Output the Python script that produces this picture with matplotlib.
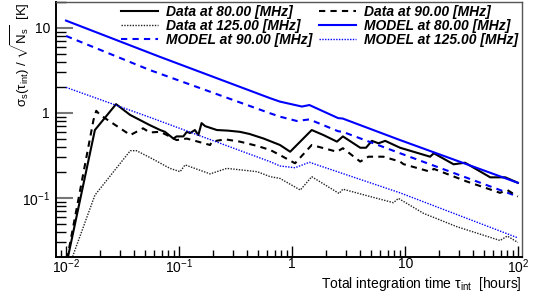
import numpy as np
import matplotlib
matplotlib.use("Agg")
import matplotlib.pyplot as plt
from matplotlib.ticker import FixedLocator, FixedFormatter, LogLocator, NullFormatter

plt.rcParams['font.family'] = ['Liberation Sans', 'DejaVu Sans']
plt.rcParams['mathtext.fontset'] = 'custom'
plt.rcParams['mathtext.rm'] = 'Liberation Sans'
plt.rcParams['mathtext.it'] = 'Liberation Sans:italic'
plt.rcParams['mathtext.bf'] = 'Liberation Sans:bold'

# values (time in hours, noise in K)
t_model80 = [0.01, 0.068, 0.64, 0.78, 1.22, 1.42, 2.55, 2.8, 9.0, 99]
v_model80 = [12.2, 4.56, 1.49, 1.36, 1.19, 1.24, 0.87, 0.86, 0.48, 0.151]

t_model90 = [0.01, 0.055, 0.64, 0.78, 1.1, 1.42, 2.55, 2.8, 9.0, 99]
v_model90 = [8.05, 3.2, 0.99, 0.905, 0.805, 0.84, 0.61, 0.60, 0.336, 0.104]

t_model125 = [0.01, 0.055, 0.64, 0.78, 1.06, 1.42, 9.0, 99]
v_model125 = [2.0, 0.89, 0.267, 0.238, 0.227, 0.263, 0.115, 0.034]

t_data80 = [0.0103, 0.018, 0.0277, 0.0368, 0.055, 0.068, 0.075, 0.089, 0.095, 0.109,
            0.117, 0.125, 0.138, 0.148, 0.158, 0.17, 0.216, 0.27, 0.345, 0.42,
            0.56, 0.78, 0.96, 1.49, 1.89, 2.49, 2.81, 4.0, 4.5, 5.07,
            5.8, 6.65, 9.0, 16.6, 17.9, 26.8, 33.8, 56.5, 76.8, 99]
v_data80 = [0.019, 0.63, 1.27, 0.95, 0.72, 0.63, 0.60, 0.50, 0.53, 0.53,
            0.60, 0.58, 0.63, 0.55, 0.76, 0.70, 0.63, 0.62, 0.60, 0.566,
            0.50, 0.42, 0.35, 0.63, 0.55, 0.46, 0.53, 0.39, 0.39, 0.47,
            0.44, 0.47, 0.39, 0.306, 0.336, 0.249, 0.26, 0.175, 0.175, 0.151]

t_data90 = [0.0102, 0.0175, 0.0185, 0.02, 0.037, 0.045, 0.048, 0.055, 0.068, 0.078,
            0.095, 0.117, 0.188, 0.195, 0.255, 0.345, 0.49, 0.64, 0.78, 1.06,
            1.49, 2.49, 2.81, 4.0, 4.73, 6.4, 9.0, 9.66, 16.6, 17.9,
            35.2, 69, 80, 99]
v_data90 = [0.019, 0.83, 1.06, 0.95, 0.55, 0.63, 0.66, 0.59, 0.60, 0.55,
            0.48, 0.50, 0.42, 0.46, 0.49, 0.46, 0.41, 0.367, 0.32, 0.256,
            0.42, 0.35, 0.385, 0.268, 0.306, 0.306, 0.268, 0.25, 0.204, 0.22,
            0.156, 0.115, 0.124, 0.104]

t_data125 = [0.0112, 0.018, 0.037, 0.042, 0.055, 0.083, 0.102, 0.113, 0.188, 0.264,
             0.49, 0.64, 0.78, 1.18, 1.49, 2.6, 2.81, 4.9, 7.87, 8.7,
             14.5, 28.6, 69, 80, 99]
v_data125 = [0.019, 0.108, 0.36, 0.36, 0.30, 0.223, 0.204, 0.245, 0.192, 0.223,
             0.204, 0.178, 0.17, 0.124, 0.178, 0.113, 0.127, 0.104, 0.088, 0.099,
             0.066, 0.046, 0.0316, 0.0357, 0.030]

xtick_vals = [0.01, 0.1, 1, 10, 100]
xtick_labels = [r'$10^{-2}$', r'$10^{-1}$', '1', '10', r'$10^{2}$']
ytick_vals = [0.1, 1, 10]
ytick_labels = [r'$10^{-1}$', '1', '10']

fig = plt.figure(figsize=(5.41, 2.96), dpi=100)
ax = fig.add_axes([0.1026, 0.1328, 0.8624, 0.8605])

dot = (0, (1, 1))
dash = (0, (3, 2.5))
ax.plot(t_data80, v_data80, color='black', lw=1.5, label='Data at 80.00 [MHz]')
ax.plot(t_data125, v_data125, color='#222222', lw=1.0, ls=dot, label='Data at 125.00 [MHz]')
ax.plot(t_model90, v_model90, color='#0000ff', lw=1.5, ls=dash, label='MODEL at 90.00 [MHz]')
ax.plot(t_data90, v_data90, color='black', lw=1.5, ls=dash, label='Data at 90.00 [MHz]')
ax.plot(t_model80, v_model80, color='#0000ff', lw=1.5, label='MODEL at 80.00 [MHz]')
ax.plot(t_model125, v_model125, color='#0000ff', lw=1.0, ls=dot, label='MODEL at 125.00 [MHz]')

ax.set_xscale('log')
ax.set_yscale('log')
ax.set_xlim(0.00807, 108)
ax.set_ylim(0.0204, 20.2)

ax.xaxis.set_major_locator(FixedLocator(xtick_vals))
ax.xaxis.set_major_formatter(FixedFormatter(xtick_labels))
ax.xaxis.set_minor_locator(LogLocator(base=10, subs=np.arange(2, 10)))
ax.xaxis.set_minor_formatter(NullFormatter())
ax.yaxis.set_major_locator(FixedLocator(ytick_vals))
ax.yaxis.set_major_formatter(FixedFormatter(ytick_labels))
ax.yaxis.set_minor_locator(LogLocator(base=10, subs=np.arange(2, 10)))
ax.yaxis.set_minor_formatter(NullFormatter())

ax.tick_params(axis='both', which='both', direction='in', top=False, right=False, labelsize=10)
ax.tick_params(axis='y', which='major', length=12, width=1.5, color='#777777', pad=4)
ax.tick_params(axis='y', which='minor', length=7, width=1)
ax.tick_params(axis='x', which='major', length=8, width=1, pad=0.5)
ax.tick_params(axis='x', which='minor', length=5, width=1)

for s in ['left', 'bottom']:
    ax.spines[s].set_linewidth(1.4)
for s in ['top', 'right']:
    ax.spines[s].set_linewidth(1.0)
    ax.spines[s].set_color('#555555')

ax.set_xlabel(r'Total integration time $\mathrm{\tau_{int}}$  [hours]', fontsize=10, loc='right', labelpad=-1)
ax.set_ylabel(r'$\mathrm{\sigma_{s}(\tau_{int})}$ / $\sqrt{\mathrm{N_{s}}}$  [K]', fontsize=9.5, loc='top')
ax.yaxis.set_label_coords(-0.05, 1.0)

leg = ax.legend(ncol=2, loc='upper right', bbox_to_anchor=(0.992, 0.99), frameon=False,
                prop={'weight': 'bold', 'style': 'italic', 'size': 10},
                handlelength=2.66, handletextpad=0.58, columnspacing=0.5,
                labelspacing=0.0, borderpad=0.0, borderaxespad=0.0)

fig.savefig('out.png', dpi=100)
